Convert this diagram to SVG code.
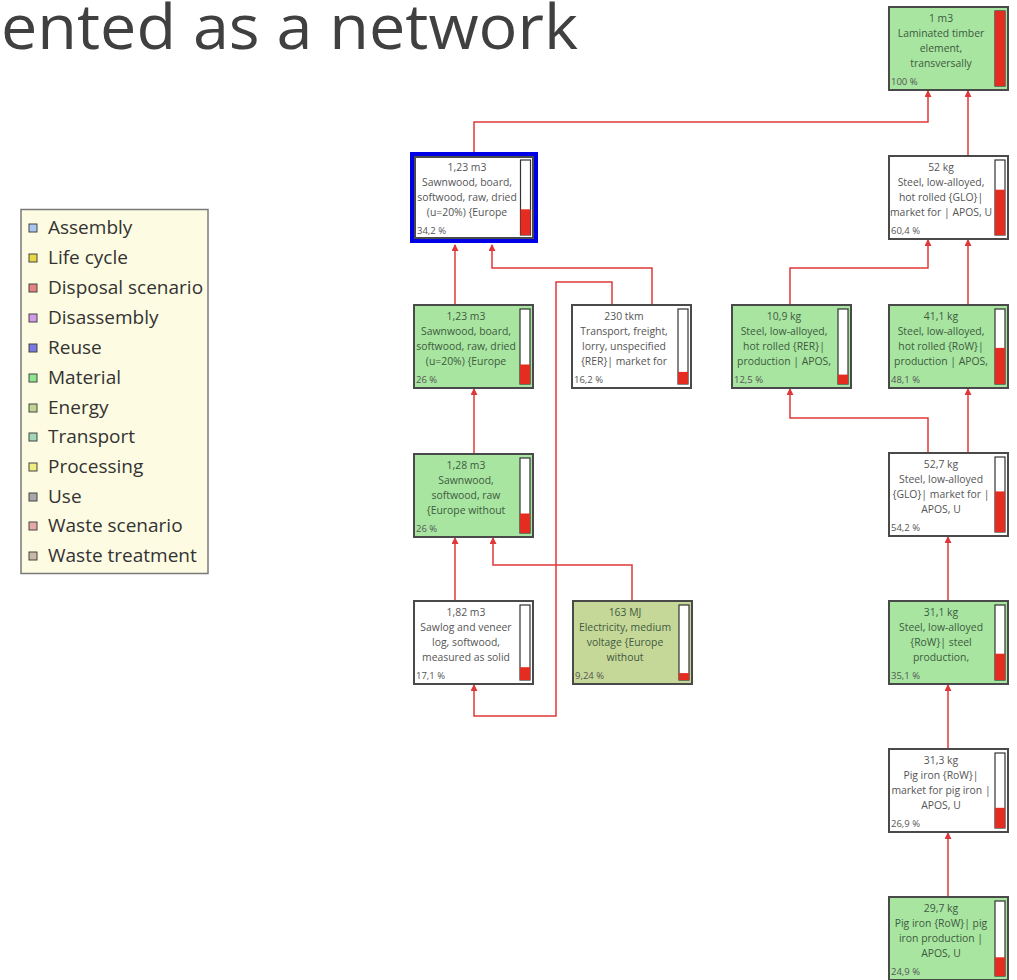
<svg xmlns="http://www.w3.org/2000/svg" width="1017" height="980" viewBox="0 0 1017 980">
<defs>
<marker id="ah" markerWidth="7" markerHeight="7" refX="6" refY="3.5" orient="auto" markerUnits="userSpaceOnUse">
<path d="M0,0 L7,3.5 L0,7 z" fill="#e0383a"/>
</marker>
<style>
.node{stroke:#4a4a4a;stroke-width:2}
.mat{fill:#a7e5a0}
.wht{fill:#ffffff}
.ene{fill:#c6d898}
.bar{fill:#ffffff;stroke:#333;stroke-width:1.2}
.red{fill:#e42c20}
.t{font-family:"Open Sans","Liberation Sans",sans-serif;font-size:10.4px;text-anchor:middle;fill:#555}
.tg{fill:#3f5a3f}
.p{font-family:"Open Sans","Liberation Sans",sans-serif;font-size:9.5px;fill:#555}
.con{fill:none;stroke:#e0383a;stroke-width:1.5;marker-end:url(#ah)}
.lg{font-family:"Open Sans","Liberation Sans",sans-serif;font-size:19px;fill:#333}
.sq{stroke:#444;stroke-width:1}
</style>
</defs>
<rect width="1017" height="980" fill="#ffffff"/>
<text x="1" y="49" font-family="Open Sans, Liberation Sans, sans-serif" font-size="62" fill="#404040" textLength="577" lengthAdjust="spacingAndGlyphs">ented as a network</text>

<g id="legend">
<rect x="21" y="209.5" width="187" height="364" fill="#fdfbe2" stroke="#7a7a7a" stroke-width="1.5"/>
<rect class="sq" x="29" y="224" width="8" height="8" fill="#a9c6f0"/><text class="lg" x="48" y="234">Assembly</text>
<rect class="sq" x="29" y="254" width="8" height="8" fill="#e8d844"/><text class="lg" x="48" y="264">Life cycle</text>
<rect class="sq" x="29" y="284" width="8" height="8" fill="#e88080"/><text class="lg" x="48" y="294">Disposal scenario</text>
<rect class="sq" x="29" y="314" width="8" height="8" fill="#d49ae8"/><text class="lg" x="48" y="324">Disassembly</text>
<rect class="sq" x="29" y="344" width="8" height="8" fill="#7a7ae6"/><text class="lg" x="48" y="354">Reuse</text>
<rect class="sq" x="29" y="374" width="8" height="8" fill="#8ee68e"/><text class="lg" x="48" y="384">Material</text>
<rect class="sq" x="29" y="404" width="8" height="8" fill="#c2d492"/><text class="lg" x="48" y="414">Energy</text>
<rect class="sq" x="29" y="433" width="8" height="8" fill="#a2d8b8"/><text class="lg" x="48" y="443">Transport</text>
<rect class="sq" x="29" y="463" width="8" height="8" fill="#f0ee7e"/><text class="lg" x="48" y="473">Processing</text>
<rect class="sq" x="29" y="493" width="8" height="8" fill="#a8a8a8"/><text class="lg" x="48" y="503">Use</text>
<rect class="sq" x="29" y="522" width="8" height="8" fill="#e8a8a8"/><text class="lg" x="48" y="532">Waste scenario</text>
<rect class="sq" x="29" y="552" width="8" height="8" fill="#c8b8a8"/><text class="lg" x="48" y="562">Waste treatment</text>
</g>

<g id="connectors">
<path class="con" d="M474,152 V122 H928 V91"/>
<path class="con" d="M968,156 V91"/>
<path class="con" d="M455,305 V245"/>
<path class="con" d="M652,305 V268 H492 V245"/>
<path class="con" d="M612,305 V282 H556 V716 H474 V685"/>
<path class="con" d="M474,454 V389"/>
<path class="con" d="M455,601 V538"/>
<path class="con" d="M632,601 V565 H493 V538"/>
<path class="con" d="M790,305 V268 H928 V240"/>
<path class="con" d="M968,305 V240"/>
<path class="con" d="M928,453 V418 H790 V389"/>
<path class="con" d="M968,453 V389"/>
<path class="con" d="M948,601 V537"/>
<path class="con" d="M948,749 V685"/>
<path class="con" d="M948,897 V833"/>
</g>

<g id="n1">
<rect x="412.5" y="154.5" width="123" height="86" fill="none" stroke="#0000e6" stroke-width="5"/>
<rect class="node wht" x="415" y="157" width="118" height="81"/>
<rect class="bar" x="520.5" y="160" width="10" height="75"/><rect class="red" x="520.5" y="209.3" width="10" height="25.7"/>
<text class="t" x="467" y="171">1,23 m3</text><text class="t" x="467" y="186">Sawnwood, board,</text><text class="t" x="467" y="201">softwood, raw, dried</text><text class="t" x="467" y="216">(u=20%) {Europe</text>
<text class="p" x="417" y="234">34,2 %</text>
</g>

<g id="n2">
<rect class="node mat" x="414" y="305" width="119" height="83"/>
<rect class="bar" x="520" y="309" width="10" height="75"/><rect class="red" x="520" y="364.5" width="10" height="19.5"/>
<text class="t tg" x="466" y="320">1,23 m3</text><text class="t tg" x="466" y="335">Sawnwood, board,</text><text class="t tg" x="466" y="350">softwood, raw, dried</text><text class="t tg" x="466" y="365">(u=20%) {Europe</text>
<text class="p tg" x="416" y="383">26 %</text>
</g>

<g id="n-transport">
<rect class="node wht" x="572" y="305" width="119" height="83"/>
<rect class="bar" x="678" y="309" width="10" height="75"/><rect class="red" x="678" y="371.9" width="10" height="12.1"/>
<text class="t" x="624" y="320">230 tkm</text><text class="t" x="624" y="335">Transport, freight,</text><text class="t" x="624" y="350">lorry, unspecified</text><text class="t" x="624" y="365">{RER}| market for</text>
<text class="p" x="574" y="383">16,2 %</text>
</g>

<g id="n3">
<rect class="node mat" x="414" y="454" width="119" height="83"/>
<rect class="bar" x="520" y="458" width="10" height="75"/><rect class="red" x="520" y="513.5" width="10" height="19.5"/>
<text class="t tg" x="466" y="469">1,28 m3</text><text class="t tg" x="466" y="484">Sawnwood,</text><text class="t tg" x="466" y="499">softwood, raw</text><text class="t tg" x="466" y="514">{Europe without</text>
<text class="p tg" x="416" y="532">26 %</text>
</g>

<g id="n4">
<rect class="node wht" x="414" y="601" width="119" height="83"/>
<rect class="bar" x="520" y="605" width="10" height="75"/><rect class="red" x="520" y="667.2" width="10" height="12.8"/>
<text class="t" x="466" y="616">1,82 m3</text><text class="t" x="466" y="631">Sawlog and veneer</text><text class="t" x="466" y="646">log, softwood,</text><text class="t" x="466" y="661">measured as solid</text>
<text class="p" x="416" y="679">17,1 %</text>
</g>

<g id="n-electricity">
<rect class="node ene" x="573" y="601" width="119" height="83"/>
<rect class="bar" x="679" y="605" width="10" height="75"/><rect class="red" x="679" y="673.1" width="10" height="6.9"/>
<text class="t tg" x="625" y="616">163 MJ</text><text class="t tg" x="625" y="631">Electricity, medium</text><text class="t tg" x="625" y="646">voltage {Europe</text><text class="t tg" x="625" y="661">without</text>
<text class="p tg" x="575" y="679">9,24 %</text>
</g>

<g id="r1">
<rect class="node mat" x="889" y="7" width="119" height="83"/>
<rect class="bar" x="995" y="11" width="10" height="75"/><rect class="red" x="995" y="11" width="10" height="75"/>
<text class="t tg" x="941" y="22">1 m3</text><text class="t tg" x="941" y="37">Laminated timber</text><text class="t tg" x="941" y="52">element,</text><text class="t tg" x="941" y="67">transversally</text>
<text class="p tg" x="891" y="85">100 %</text>
</g>

<g id="r2">
<rect class="node wht" x="889" y="156" width="119" height="83"/>
<rect class="bar" x="995" y="160" width="10" height="75"/><rect class="red" x="995" y="189.7" width="10" height="45.3"/>
<text class="t" x="941" y="171">52 kg</text><text class="t" x="941" y="186">Steel, low-alloyed,</text><text class="t" x="941" y="201">hot rolled {GLO}|</text><text class="t" x="941" y="216">market for | APOS, U</text>
<text class="p" x="891" y="234">60,4 %</text>
</g>

<g id="l1">
<rect class="node mat" x="732" y="305" width="119" height="83"/>
<rect class="bar" x="838" y="309" width="10" height="75"/><rect class="red" x="838" y="374.6" width="10" height="9.4"/>
<text class="t tg" x="784" y="320">10,9 kg</text><text class="t tg" x="784" y="335">Steel, low-alloyed,</text><text class="t tg" x="784" y="350">hot rolled {RER}|</text><text class="t tg" x="784" y="365">production | APOS,</text>
<text class="p tg" x="734" y="383">12,5 %</text>
</g>

<g id="r3">
<rect class="node mat" x="889" y="305" width="119" height="83"/>
<rect class="bar" x="995" y="309" width="10" height="75"/><rect class="red" x="995" y="347.9" width="10" height="36.1"/>
<text class="t tg" x="941" y="320">41,1 kg</text><text class="t tg" x="941" y="335">Steel, low-alloyed,</text><text class="t tg" x="941" y="350">hot rolled {RoW}|</text><text class="t tg" x="941" y="365">production | APOS,</text>
<text class="p tg" x="891" y="383">48,1 %</text>
</g>

<g id="r4">
<rect class="node wht" x="889" y="453" width="119" height="83"/>
<rect class="bar" x="995" y="457" width="10" height="75"/><rect class="red" x="995" y="491.4" width="10" height="40.6"/>
<text class="t" x="941" y="468">52,7 kg</text><text class="t" x="941" y="483">Steel, low-alloyed</text><text class="t" x="941" y="498">{GLO}| market for |</text><text class="t" x="941" y="513">APOS, U</text>
<text class="p" x="891" y="531">54,2 %</text>
</g>

<g id="r5">
<rect class="node mat" x="889" y="601" width="119" height="83"/>
<rect class="bar" x="995" y="605" width="10" height="75"/><rect class="red" x="995" y="653.7" width="10" height="26.3"/>
<text class="t tg" x="941" y="616">31,1 kg</text><text class="t tg" x="941" y="631">Steel, low-alloyed</text><text class="t tg" x="941" y="646">{RoW}| steel</text><text class="t tg" x="941" y="661">production,</text>
<text class="p tg" x="891" y="679">35,1 %</text>
</g>

<g id="r6">
<rect class="node wht" x="889" y="749" width="119" height="83"/>
<rect class="bar" x="995" y="753" width="10" height="75"/><rect class="red" x="995" y="807.8" width="10" height="20.2"/>
<text class="t" x="941" y="764">31,3 kg</text><text class="t" x="941" y="779">Pig iron {RoW}|</text><text class="t" x="941" y="794">market for pig iron |</text><text class="t" x="941" y="809">APOS, U</text>
<text class="p" x="891" y="827">26,9 %</text>
</g>

<g id="r7">
<rect class="node mat" x="889" y="897" width="119" height="83"/>
<rect class="bar" x="995" y="901" width="10" height="75"/><rect class="red" x="995" y="957.3" width="10" height="18.7"/>
<text class="t tg" x="941" y="912">29,7 kg</text><text class="t tg" x="941" y="927">Pig iron {RoW}| pig</text><text class="t tg" x="941" y="942">iron production |</text><text class="t tg" x="941" y="957">APOS, U</text>
<text class="p tg" x="891" y="975">24,9 %</text>
</g>
</svg>
